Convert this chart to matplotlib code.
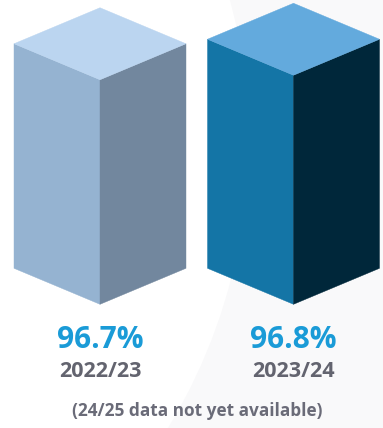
import matplotlib
matplotlib.use("Agg")
import matplotlib.pyplot as plt
from matplotlib.patches import Polygon, Circle

# ---- data ----
years = ["2022/23", "2023/24"]
values = [96.7, 96.8]
value_labels = ["96.7%", "96.8%"]
note = "(24/25 data not yet available)"

# ---- styles ----
top_colors = ["#BBD5F0", "#63AADD"]
left_colors = ["#95B3D1", "#1475A6"]
right_colors = ["#72879E", "#00273A"]
blue = "#1A9BD7"
grey_txt = "#63646F"
note_txt = "#6A6B78"
bg_grey = "#F9F9FA"

W, H = 383, 428
fig = plt.figure(figsize=(W / 100, H / 100), dpi=100)
fig.patch.set_facecolor("white")

# background decoration (pixel space)
bg = fig.add_axes([0, 0, 1, 1], zorder=0)
bg.set_xlim(0, W)
bg.set_ylim(H, 0)
bg.set_facecolor(bg_grey)
bg.add_patch(Circle((-301.5, 141.5), 550, facecolor="white", edgecolor="none"))
for s in bg.spines.values():
    s.set_visible(False)
bg.set_xticks([]); bg.set_yticks([])

# main axes: x = category index, y = value units
ax = fig.add_axes([0, 0, 1, 1], zorder=1)
ax.patch.set_alpha(0)
sx = 193.5   # px per category
sy = 45.0    # px per value unit
base = 91.71  # value at bar bottom corners
base_px = 268.3
x0_px = 100.0
ax.set_xlim(-x0_px / sx, (W - x0_px) / sx)
ax.set_ylim(base - (H - base_px) / sy, base + base_px / sy)
ax.axis("off")

def py(pix):
    return base - (pix - base_px) / sy

half_w = 86 / sx
depth = 36 / sy

for i, v in enumerate(values):
    c = i
    left = [(c - half_w, base), (c - half_w, v), (c, v - depth), (c, base - depth)]
    right = [(c, base - depth), (c, v - depth), (c + half_w, v), (c + half_w, base)]
    top = [(c - half_w, v), (c, v + depth), (c + half_w, v), (c, v - depth)]
    ax.add_patch(Polygon(left, closed=True, facecolor=left_colors[i], edgecolor=left_colors[i], lw=0.3))
    ax.add_patch(Polygon(right, closed=True, facecolor=right_colors[i], edgecolor=right_colors[i], lw=0.3))
    ax.add_patch(Polygon(top, closed=True, facecolor=top_colors[i], edgecolor=top_colors[i], lw=0.3))

    ax.text(c, py(339.5), value_labels[i], ha="center", va="center",
            fontsize=21.5, fontweight="bold", color=blue, family="Open Sans")
    ax.text(c, py(371.5), years[i], ha="center", va="center",
            fontsize=15.5, fontweight="bold", color=grey_txt, family="Open Sans")

ax.text(0.5, py(411), note, ha="center", va="center",
        fontsize=12.4, fontweight="bold", color=note_txt, family="Open Sans")

fig.savefig("out.png", dpi=100)
